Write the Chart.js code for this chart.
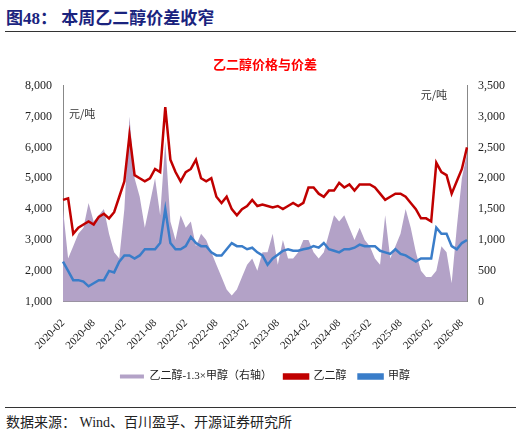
<!DOCTYPE html>
<html>
<head>
<meta charset="utf-8">
<script src="https://cdn.jsdelivr.net/npm/chart.js@4"></script>
<style>
  body { margin: 0; width: 521px; height: 438px; background: #fff; font-family: "Noto Sans CJK SC", serif; position: relative; overflow: hidden; }
  #title { position: absolute; left: 6px; top: 4px; font-size: 17px; font-weight: bold; color: #1a237e; font-family: "Liberation Serif", "Noto Sans CJK SC"; }
  #rule1 { position: absolute; left: 5px; top: 31px; width: 511px; border-top: 1.5px solid #333; }
  #rule2 { position: absolute; left: 5px; top: 407px; width: 511px; border-top: 1px solid #333; }
  #source { position: absolute; left: 6px; top: 411px; font-size: 14px; color: #222; font-family: "Liberation Serif", "Noto Sans CJK SC"; }
  #wrap { position: absolute; left: 0; top: 52px; width: 521px; height: 340px; }
</style>
</head>
<body>
<div id="title">图48：&nbsp;本周乙二醇价差收窄</div>
<div id="rule1"></div>
<div id="wrap"><canvas id="chart"></canvas></div>
<div id="rule2"></div>
<div id="source">数据来源：&nbsp;Wind、百川盈孚、开源证券研究所</div>
<script>
const tickLabels = ['2020-02','2020-08','2021-02','2021-08','2022-02','2022-08','2023-02','2023-08','2024-02','2024-08','2025-02','2025-08','2026-02','2026-08']

const egPrice = [4300,4350,3200,3400,3500,3600,3500,3750,3850,3700,3900,4400,4900,6400,5100,5000,4900,5000,5300,5200,
  7300,5600,5200,4900,5200,5300,5600,5000,4900,5000,4400,4200,4400,4000,3800,4000,4100,4300,4100,4150,
  4100,4050,4100,4000,4100,4200,4100,4200,4700,4700,4500,4400,4600,4600,4850,4700,4800,4600,4800,4800,
  4800,4700,4500,4300,4400,4500,4500,4400,4200,4000,3700,3700,3600,5500,5200,5100,4500,4900,5300,6000]

const methanolPrice = [2300,2000,1700,1700,1650,1500,1600,1700,1700,2000,1950,2300,2500,2500,2400,2500,2700,2700,2700,2900,
  4000,2900,2700,2700,2800,3100,2900,2800,2800,2600,2500,2500,2700,2900,2800,2800,2700,2750,2600,2500,
  2200,2400,2520,2650,2700,2650,2650,2700,2730,2800,2750,2900,2700,2650,2600,2700,2700,2750,2850,2800,
  2800,2800,2650,2600,2550,2700,2550,2500,2400,2300,2400,2400,2400,3400,3200,3200,2800,2700,2900,3000]

const spread = [1500,700,900,1100,1200,1600,1300,1400,1500,1100,800,700,1500,3000,2000,1700,1200,1600,2000,1400,
  2600,1300,1000,1400,1200,1300,900,1100,1000,800,600,400,200,100,200,400,600,700,500,800,
  800,1100,600,1000,700,700,800,1000,1000,800,700,800,1100,1400,1300,1400,1200,1000,1200,1000,
  900,700,600,1400,700,900,1100,1500,1200,800,500,400,400,500,900,800,300,1200,2000,2400]

// monthly category labels, show only every 6th
const labels = []
for (let i = 0; i < egPrice.length; i++) {
    const y = 2020 + Math.floor((i + 1) / 12)
    const m = (i + 1) % 12 + 1
    labels.push(y + '-' + String(m).padStart(2, '0'))
}

const unitPlugin = {
    id: 'units',
    afterDraw(chart) {
        const ctx = chart.ctx, a = chart.chartArea
        ctx.save()
        ctx.font = '11px "Noto Sans CJK SC"'
        ctx.fillStyle = '#333'
        ctx.textBaseline = 'middle'
        ctx.fillText('元/吨', a.left + 6, a.top + 28)
        ctx.textAlign = 'right'
        ctx.fillText('元/吨', a.right - 20, a.top + 9)
        ctx.restore()
    }
}

const serif = '"Liberation Serif", "Noto Sans CJK SC"'

new Chart(document.getElementById('chart'), {
    type: 'line',
    data: {
        labels: labels,
        datasets: [{
            label: '乙二醇-1.3×甲醇（右轴）',
            data: spread,
            yAxisID: 'y1',
            fill: 'origin',
            backgroundColor: '#b3a2c7',
            borderColor: '#b3a2c7',
            borderWidth: 0,
            pointRadius: 0,
            order: 3
        }, {
            label: '乙二醇',
            data: egPrice,
            yAxisID: 'y',
            borderColor: '#c00000',
            backgroundColor: '#c00000',
            borderWidth: 2.5,
            pointRadius: 0,
            order: 1
        }, {
            label: '甲醇',
            data: methanolPrice,
            yAxisID: 'y',
            borderColor: '#3a7dc9',
            backgroundColor: '#3a7dc9',
            borderWidth: 2.5,
            pointRadius: 0,
            order: 2
        }]
    },
    plugins: [unitPlugin],
    options: {
        animation: false,
        responsive: true,
        maintainAspectRatio: false,
        layout: { padding: { left: 22, right: 13 } },
        scales: {
            x: {
                grid: { display: false, drawTicks: true },
                border: { color: '#888' },
                ticks: {
                    autoSkip: false,
                    maxRotation: 45, minRotation: 45,
                    padding: 7,
                    color: '#222',
                    font: { family: serif, size: 11 },
                    callback: function(v, i) { return i % 6 === 0 ? labels[i] : null }
                }
            },
            y: {
                position: 'left',
                min: 1000, max: 8000,
                grid: { display: false },
                border: { color: '#888' },
                ticks: { stepSize: 1000, color: '#222', font: { family: serif, size: 12 },
                    callback: v => v.toLocaleString('en-US') }
            },
            y1: {
                position: 'right',
                min: 0, max: 3500,
                grid: { display: false },
                border: { color: '#888' },
                ticks: { stepSize: 500, color: '#222', font: { family: serif, size: 12 },
                    callback: v => v.toLocaleString('en-US') }
            }
        },
        plugins: {
            title: {
                display: true,
                text: '乙二醇价格与价差',
                color: '#ff0000',
                font: { family: '"Noto Sans CJK SC"', size: 13, weight: 'bold' },
                padding: { top: 4, bottom: 14 }
            },
            legend: {
                position: 'bottom',
                labels: {
                    boxWidth: 24, boxHeight: 4,
                    color: '#222',
                    padding: 12,
                    font: { family: serif, size: 11 },
                    sort: (a, b) => a.datasetIndex - b.datasetIndex
                }
            },
            tooltip: { enabled: false }
        }
    }
})
</script>
</body>
</html>
